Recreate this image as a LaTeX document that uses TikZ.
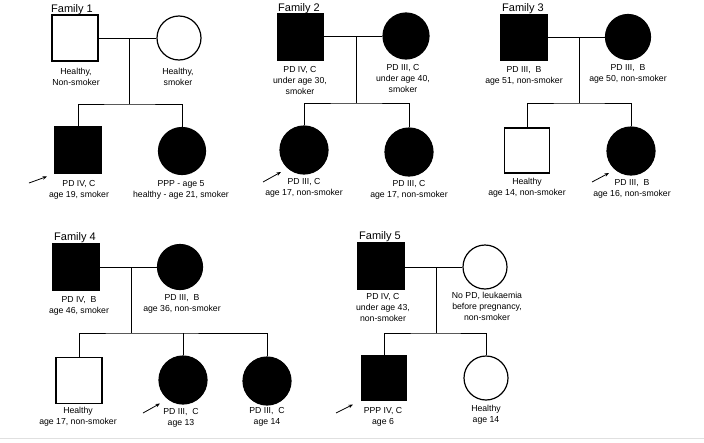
\documentclass[tikz,border=0pt]{standalone}
\usepackage{fontspec}
\setmainfont{Liberation Sans}
\usetikzlibrary{arrows.meta}
\begin{document}
\begin{tikzpicture}[x=1pt,y=-1pt,
  male/.style={draw=black,line width=1.2pt,rectangle,minimum size=#1,inner sep=0pt},
  male/.default=46,
  female/.style={draw=black,line width=1.2pt,circle,minimum size=#1,inner sep=0pt},
  female/.default=46,
  aff/.style={fill=black},
  lbl/.style={font=\fontsize{8.7}{11}\selectfont,align=center,inner sep=0pt},
  ttl/.style={font=\fontsize{11}{13}\selectfont,inner sep=0pt,anchor=base west},
  link/.style={line width=0.9pt},
  pointer/.style={line width=0.8pt,-{Stealth[length=4.5pt,width=3.5pt]}}]
\useasboundingbox (0,0) rectangle (704,442);
\fill[white] (0,0) rectangle (704,442);
\draw[black!12,line width=0.8pt] (0,438) -- (704,438);

% ---------------- Family 1
\node[ttl] (t1) at (51,12) {Family 1};
\node[male] (f1a) at (75,38) {};
\node[female=44] (f1b) at (179,38) {};
\node[male,aff] (f1c) at (78,150) {};
\node[female=47,aff] (f1d) at (182,151) {};
\coordinate (f1m) at (129,38);
\coordinate (f1s) at (129,104);
\draw[link] (f1a.east) -- (f1b.west);
\draw[link] (f1m) -- (f1s);
\draw[link] (f1c.north) |- (f1s) -| (f1d.north);
\node[lbl] (l1a) at (76,76.5) {Healthy,\\Non-smoker};
\node[lbl] (l1b) at (178,76.5) {Healthy,\\smoker};
\node[lbl] (l1c) at (79,189.5) {PD IV, C\\age 19, smoker};
\node[lbl] (l1d) at (181,189.5) {PPP - age 5\\healthy - age 21, smoker};
\coordinate (a1s) at (29,183);
\coordinate (a1e) at (47,176.5);
\draw[pointer] (a1s) -- (a1e);

% ---------------- Family 2
\node[ttl] (t2) at (278,11) {Family 2};
\node[male,aff] (f2a) at (300.5,37) {};
\node[female,aff] (f2b) at (406,36) {};
\node[female=48,aff] (f2c) at (304,150) {};
\node[female=48,aff] (f2d) at (409,152) {};
\coordinate (f2m) at (356,36);
\coordinate (f2s) at (356,103);
\draw[link] (f2a.east |- f2m) -- (f2b.west);
\draw[link] (f2m) -- (f2s);
\draw[link] (f2c.north) |- (f2s) -| (f2d.north);
\node[lbl] (l2a) at (300,80.5) {PD IV, C\\under age 30,\\smoker};
\node[lbl] (l2b) at (403,79) {PD III, C\\under age 40,\\smoker};
\node[lbl] (l2c) at (304,188) {PD III, C\\age 17, non-smoker};
\node[lbl] (l2d) at (409,190) {PD III, C\\age 17, non-smoker};
\coordinate (a2s) at (263,182);
\coordinate (a2e) at (281,172);
\draw[pointer] (a2s) -- (a2e);

% ---------------- Family 3
\node[ttl] (t3) at (502,11) {Family 3};
\node[male,aff] (f3a) at (524,37.5) {};
\node[female=45,aff] (f3b) at (628,37) {};
\node[male=45] (f3c) at (527,150.5) {};
\node[female=48,aff] (f3d) at (631,151) {};
\coordinate (f3m) at (579,37);
\coordinate (f3s) at (579,103);
\draw[link] (f3a.east |- f3m) -- (f3b.west);
\draw[link] (f3m) -- (f3s);
\draw[link] (f3c.north) |- (f3s) -| (f3d.north);
\node[lbl] (l3a) at (524,75.5) {PD III, \ B\\age 51, non-smoker};
\node[lbl] (l3b) at (628,73.5) {PD III, \ B\\age 50, non-smoker};
\node[lbl] (l3c) at (527,188) {Healthy\\age 14, non-smoker};
\node[lbl] (l3d) at (632,188.5) {PD III, \ B\\age 16, non-smoker};
\coordinate (a3s) at (592,182);
\coordinate (a3e) at (609,173);
\draw[pointer] (a3s) -- (a3e);

% ---------------- Family 4
\node[ttl] (t4) at (54,240) {Family 4};
\node[male,aff] (f4a) at (76,267) {};
\node[female=45,aff] (f4b) at (180,267) {};
\node[male] (f4c) at (79,380.5) {};
\node[female=48,aff] (f4d) at (183,380) {};
\node[female=48,aff] (f4e) at (267,381) {};
\coordinate (f4m) at (131,267);
\coordinate (f4s) at (131,333);
\draw[link] (f4a.east) -- (f4b.west);
\draw[link] (f4m) -- (f4s);
\draw[link] (f4c.north) |- (f4s) -| (f4e.north);
\draw[link] (f4d.north) -- (f4d.north |- f4s);
\node[lbl] (l4a) at (79,306) {PD IV, \ B\\age 46, smoker};
\node[lbl] (l4b) at (182,304) {PD III, \ B\\age 36, non-smoker};
\node[lbl] (l4c) at (78,417) {Healthy\\age 17, non-smoker};
\node[lbl] (l4d) at (181,417.5) {PD III, \ C\\age 13};
\node[lbl] (l4e) at (267,417) {PD III, \ C\\age 14};
\coordinate (a4s) at (143,413);
\coordinate (a4e) at (160,403.5);
\draw[pointer] (a4s) -- (a4e);

% ---------------- Family 5
\node[ttl] (t5) at (359,239) {Family 5};
\node[male,aff] (f5a) at (381,266) {};
\node[female=44] (f5b) at (485,267) {};
\node[male=45,aff] (f5c) at (384,378) {};
\node[female=44] (f5d) at (486,378) {};
\coordinate (f5m) at (436,267);
\coordinate (f5s) at (436,333);
\draw[link] (f5a.east |- f5m) -- (f5b.west);
\draw[link] (f5m) -- (f5s);
\draw[link] (f5c.north) |- (f5s) -| (f5d.north);
\node[lbl] (l5a) at (383,307) {PD IV, C\\under age 43,\\non-smoker};
\node[lbl] (l5b) at (487,306) {No PD, leukaemia\\before pregnancy,\\non-smoker};
\node[lbl] (l5c) at (383,417) {PPP IV, C\\age 6};
\node[lbl] (l5d) at (486,415) {Healthy\\age 14};
\coordinate (a5s) at (336,413);
\coordinate (a5e) at (353,404.5);
\draw[pointer] (a5s) -- (a5e);
\end{tikzpicture}
\end{document}
